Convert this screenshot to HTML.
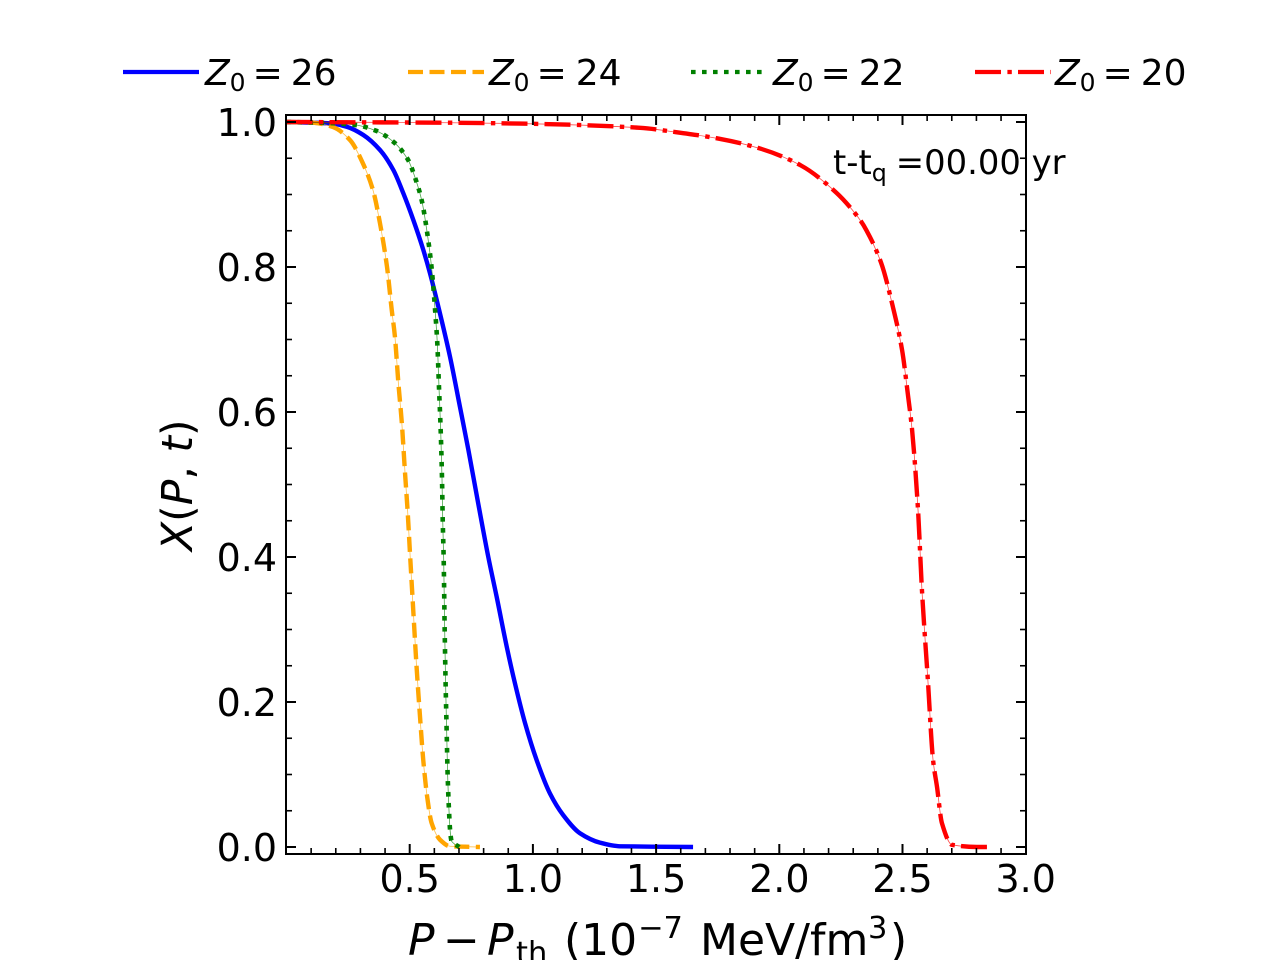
<!DOCTYPE html>
<html lang="en">
<head>
<meta charset="utf-8">
<title>X(P,t) chart</title>
<style>
html,body{margin:0;padding:0;background:#fff;}
svg{display:block;}
text{font-family:"DejaVu Sans",sans-serif;fill:#000;}
</style>
</head>
<body>
<svg id="chart" width="1280" height="960" viewBox="0 0 1280 960" xmlns="http://www.w3.org/2000/svg">
  <rect width="1280" height="960" fill="#fff"/>
  <g id="series-layer"></g>
  <g id="tick-layer"></g>
  <rect x="286" y="115" width="740" height="739" fill="none" stroke="#000" stroke-width="2"/>
  <g id="label-layer" font-size="38"></g>

  <text y="955" font-size="44"><tspan x="408" font-style="italic">P</tspan><tspan x="443">−</tspan><tspan x="487" font-style="italic">P</tspan><tspan x="516" font-size="30.5" dy="8">th</tspan><tspan x="564" dy="-8">(10</tspan><tspan x="638" font-size="30.5" dy="-17">−7</tspan><tspan x="700" dy="17">MeV/fm</tspan><tspan x="868" font-size="30.5" dy="-17">3</tspan><tspan x="890" dy="17">)</tspan></text>
  <text transform="translate(192,551) rotate(-90)" font-size="42.5"><tspan font-style="italic">X</tspan>(<tspan font-style="italic">P</tspan>, <tspan font-style="italic">t</tspan>)</text>

  <text x="833" y="174" font-size="33.8">t-t<tspan font-size="23.7" dy="7">q</tspan><tspan dy="-7" dx="9">=00.00 yr</tspan></text>

  <g id="legend-layer"></g>
</svg>
<script>
const seriesNames = ["z0-26", "z0-24", "z0-22", "z0-20"];
const legendLabels = ["26", "24", "22", "20"];
const seriesColors = ["#0000ff", "#ffa500", "#008000", "#ff0000"];
const seriesDashes = ["", "15 6.5", "4.6 6.4", "26 6.4 4.4 6.2"];

const xBlue = [0, 0.1765, 0.2442, 0.3118, 0.3795, 0.4336, 0.4742, 0.5147, 0.5553, 0.5824, 0.6162, 0.6635, 0.704, 0.738, 0.778, 0.819, 0.853, 0.894, 0.927, 0.968, 1.015, 1.069, 1.123, 1.191, 1.272, 1.353, 1.650];
const yBlue = [1, 0.9982, 0.9935, 0.9821, 0.9614, 0.9338, 0.9016, 0.8648, 0.8234, 0.7913, 0.7453, 0.6763, 0.607, 0.548, 0.474, 0.400, 0.345, 0.276, 0.226, 0.171, 0.120, 0.074, 0.044, 0.019, 0.006, 0.001, 0];

const xOrange = [0, 0.108, 0.189, 0.258, 0.310, 0.351, 0.379, 0.408, 0.427, 0.440, 0.454, 0.468, 0.481, 0.492, 0.501, 0.515, 0.528, 0.542, 0.555, 0.571, 0.589, 0.623, 0.664, 0.785];
const yOrange = [1, 0.999, 0.993, 0.975, 0.943, 0.906, 0.861, 0.800, 0.741, 0.704, 0.640, 0.585, 0.516, 0.461, 0.406, 0.323, 0.248, 0.179, 0.120, 0.069, 0.033, 0.010, 0.001, 0];

const xGreen = [0, 0.144, 0.278, 0.363, 0.436, 0.493, 0.526, 0.550, 0.578, 0.590, 0.603, 0.612, 0.619, 0.626, 0.631, 0.634, 0.638, 0.642, 0.646, 0.650, 0.654, 0.659, 0.664, 0.670, 0.701];
const yGreen = [1, 0.999, 0.996, 0.988, 0.972, 0.948, 0.919, 0.890, 0.830, 0.795, 0.741, 0.695, 0.633, 0.572, 0.510, 0.451, 0.396, 0.298, 0.221, 0.160, 0.099, 0.054, 0.023, 0.008, 0];

const xRed = [0, 0.664, 1.069, 1.435, 1.581, 1.755, 1.926, 2.088, 2.230, 2.319, 2.353, 2.413, 2.461, 2.498, 2.523, 2.539, 2.563, 2.579, 2.603, 2.624, 2.640, 2.660, 2.701, 2.802, 2.843];
const yRed = [1, 0.999, 0.997, 0.992, 0.986, 0.977, 0.963, 0.940, 0.903, 0.869, 0.851, 0.806, 0.745, 0.686, 0.621, 0.575, 0.465, 0.354, 0.230, 0.120, 0.083, 0.033, 0.003, 0, 0];

const xTickLabels = ["0.5", "1.0", "1.5", "2.0", "2.5", "3.0"];
const yTickLabels = ["0.0", "0.2", "0.4", "0.6", "0.8", "1.0"];

const seriesX = [xBlue, xOrange, xGreen, xRed];
const seriesY = [yBlue, yOrange, yGreen, yRed];

const NS = "http://www.w3.org/2000/svg";
function sx(v) { return 286.5 + v * 246.4; }
function sy(v) { return 847 - v * 725; }
function make(tag, parent) {
  const el = document.createElementNS(NS, tag);
  parent.appendChild(el);
  return el;
}
/* monotone cubic path through pixel-mapped data */
function smoothPath(xs, ys) {
  const px = xs.map(sx), py = ys.map(sy), n = px.length;
  const s = [], m = [];
  for (let i = 0; i < n - 1; i++) s.push((py[i + 1] - py[i]) / (px[i + 1] - px[i]));
  m.push(s[0]);
  for (let i = 1; i < n - 1; i++) {
    m.push(s[i - 1] * s[i] <= 0 ? 0 : 2 * s[i - 1] * s[i] / (s[i - 1] + s[i]));
  }
  m.push(s[n - 2]);
  let d = "M" + px[0].toFixed(2) + " " + py[0].toFixed(2);
  for (let i = 0; i < n - 1; i++) {
    const h = (px[i + 1] - px[i]) / 3;
    d += "C" + (px[i] + h).toFixed(2) + " " + (py[i] + m[i] * h).toFixed(2) + " " +
      (px[i + 1] - h).toFixed(2) + " " + (py[i + 1] - m[i + 1] * h).toFixed(2) + " " +
      px[i + 1].toFixed(2) + " " + py[i + 1].toFixed(2);
  }
  return d;
}

const seriesLayer = document.getElementById("series-layer");
seriesNames.forEach(function (name, i) {
  const d = smoothPath(seriesX[i], seriesY[i]);
  if (seriesDashes[i]) {
    const thin = make("path", seriesLayer);
    
    
    thin.setAttribute("d", d);
    thin.setAttribute("fill", "none");
    thin.setAttribute("stroke", seriesColors[i]);
    thin.setAttribute("stroke-width", "0.8");
    thin.setAttribute("stroke-opacity", "0.7");
  }
  const line = make("path", seriesLayer);
  
  
  line.setAttribute("d", d);
  line.setAttribute("fill", "none");
  line.setAttribute("stroke", seriesColors[i]);
  line.setAttribute("stroke-width", i === 2 ? "4.6" : "4.4");
  line.setAttribute("stroke-linejoin", "round");
  if (seriesDashes[i]) line.setAttribute("stroke-dasharray", seriesDashes[i]);
});

const tickLayer = document.getElementById("tick-layer");
function tick(x1, y1, x2, y2, w) {
  const t = make("line", tickLayer);
  
  
  t.setAttribute("x1", x1);
  t.setAttribute("y1", y1);
  t.setAttribute("x2", x2);
  t.setAttribute("y2", y2);
  t.setAttribute("stroke", "#000");
  t.setAttribute("stroke-width", w);
}
for (let k = 1; k <= 29; k++) {
  const v = k / 10;
  const major = k % 5 === 0;
  const len = major ? 10 : 6;
  const w = major ? 2 : 1.6;
  const px = sx(v);
  tick(px, 854, px, 854 - len, w);
  tick(px, 115, px, 115 + len, w);
}
for (let k = 0; k <= 20; k++) {
  const v = k / 20;
  const major = k % 4 === 0;
  const len = major ? 10 : 6;
  const w = major ? 2 : 1.6;
  const py = sy(v);
  tick(286, py, 286 + len, py, w);
  tick(1026, py, 1026 - len, py, w);
}

const labelLayer = document.getElementById("label-layer");
xTickLabels.forEach(function (s) {
  const t = make("text", labelLayer);
  
  
  t.setAttribute("x", sx(parseFloat(s)));
  t.setAttribute("y", 892);
  t.setAttribute("text-anchor", "middle");
  t.textContent = s;
});
yTickLabels.forEach(function (s) {
  const t = make("text", labelLayer);
  
  
  t.setAttribute("x", 277);
  t.setAttribute("y", sy(parseFloat(s)) + 14);
  t.setAttribute("text-anchor", "end");
  t.textContent = s;
});

const legendLayer = document.getElementById("legend-layer");
const legendLineStart = [123, 408, 691, 975];
const legendTextStart = [205, 489, 773, 1055];
seriesNames.forEach(function (name, i) {
  const x0 = legendLineStart[i];
  const l = make("line", legendLayer);
  
  
  l.setAttribute("x1", x0);
  l.setAttribute("x2", x0 + 76);
  l.setAttribute("y1", 72);
  l.setAttribute("y2", 72);
  l.setAttribute("stroke", seriesColors[i]);
  l.setAttribute("stroke-width", "4.2");
  if (seriesDashes[i]) l.setAttribute("stroke-dasharray", seriesDashes[i]);
  const t = make("text", legendLayer);
  
  
  t.setAttribute("x", legendTextStart[i]);
  t.setAttribute("y", 85);
  t.setAttribute("font-size", "36");
  const z = make("tspan", t);
  z.setAttribute("font-style", "italic");
  z.textContent = "Z";
  const sub = make("tspan", t);
  sub.setAttribute("font-size", "25");
  sub.setAttribute("dy", "6");
  sub.textContent = "0";
  const eq = make("tspan", t);
  eq.setAttribute("dy", "-6");
  eq.setAttribute("dx", "7");
  eq.textContent = "=";
  const val = make("tspan", t);
  val.setAttribute("dx", i === 1 ? "9" : "8");
  val.textContent = legendLabels[i];
});
</script>
</body>
</html>
